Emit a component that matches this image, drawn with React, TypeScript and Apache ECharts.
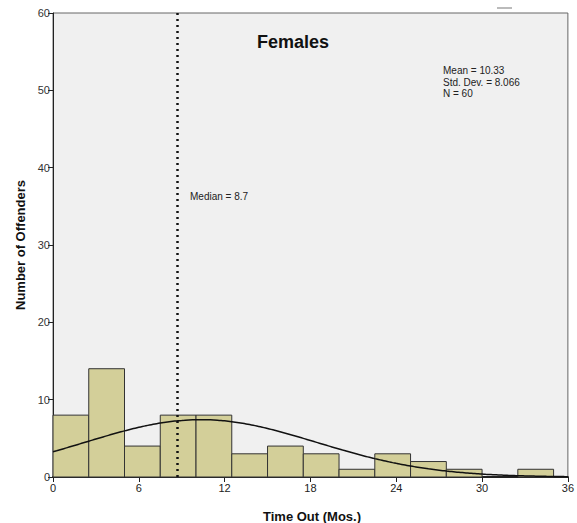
import React, { useEffect, useRef } from "react";
import * as echarts from "echarts";

// Histogram of time out (months), bin width 2.5
const binStarts = [0, 2.5, 5, 7.5, 10, 12.5, 15, 17.5, 20, 22.5, 25, 27.5, 30, 32.5];
const binCounts = [8, 14, 4, 8, 8, 3, 4, 3, 1, 3, 2, 1, 0, 1];
const BIN_WIDTH = 2.5;

// Summary statistics
const MEAN = 10.33;
const STD_DEV = 8.066;
const N = 60;
const MEDIAN = 8.7;

const xTicks = [0, 6, 12, 18, 24, 30, 36];
const yTicks = [0, 10, 20, 30, 40, 50, 60];

const FONT = "'Liberation Sans', Arial, sans-serif";

// Fitted normal curve scaled to counts per bin
function normalCurve(): number[][] {
  const pts: number[][] = [];
  for (let i = 0; i <= 144; i++) {
    const x = i * 0.25;
    const z = (x - MEAN) / STD_DEV;
    const y = (N * BIN_WIDTH * Math.exp(-0.5 * z * z)) / (STD_DEV * Math.sqrt(2 * Math.PI));
    pts.push([x, y]);
  }
  return pts;
}

export default function App() {
  const ref = useRef<HTMLDivElement>(null);

  useEffect(() => {
    if (!ref.current) return;
    const chart = echarts.init(ref.current, null, { renderer: "svg" });
    const bars = binStarts.map((s, i) => [s, s + BIN_WIDTH, binCounts[i]]);

    chart.setOption({
      animation: false,
      backgroundColor: "#ffffff",
      grid: {
        left: 53,
        top: 13,
        width: 516,
        height: 464,
        show: true,
        backgroundColor: "#f0f0f0",
        borderColor: "#666666",
        borderWidth: 1,
      },
      xAxis: {
        type: "value",
        min: xTicks[0],
        max: xTicks[xTicks.length - 1],
        interval: 6,
        axisLine: { show: true, onZero: false, lineStyle: { color: "#222", width: 2 } },
        axisTick: { show: true, length: 5, lineStyle: { color: "#222" } },
        axisLabel: { color: "#222", fontSize: 11, fontFamily: FONT, margin: 5 },
        splitLine: { show: false },
      },
      yAxis: {
        type: "value",
        min: yTicks[0],
        max: yTicks[yTicks.length - 1],
        interval: 10,
        axisLine: { show: true, lineStyle: { color: "#222", width: 1 } },
        axisTick: { show: true, length: 5, lineStyle: { color: "#222" } },
        axisLabel: { color: "#333", fontSize: 11, fontFamily: FONT, margin: 3 },
        splitLine: { show: false },
      },
      series: [
        {
          type: "custom",
          data: bars,
          z: 2,
          renderItem: (params: any, api: any) => {
            const p0 = api.coord([api.value(0), api.value(2)]);
            const p1 = api.coord([api.value(1), 0]);
            const h = p1[1] - p0[1];
            if (h <= 0) return null;
            return {
              type: "rect",
              shape: { x: p0[0], y: p0[1], width: p1[0] - p0[0], height: h },
              style: { fill: "#d3cf99", stroke: "#333333", lineWidth: 1 },
            };
          },
        },
        {
          type: "line",
          data: normalCurve(),
          showSymbol: false,
          symbol: "none",
          smooth: true,
          z: 3,
          lineStyle: { color: "#111", width: 1.5 },
          markLine: {
            silent: true,
            symbol: "none",
            label: { show: false },
            lineStyle: { color: "#111", type: [2, 4], width: 2.5 },
            data: [{ xAxis: MEDIAN }],
          },
        },
      ],
      graphic: [
        {
          type: "text",
          left: 257,
          top: 33,
          style: { text: "Females", fontSize: 18, fontWeight: "bold", fontFamily: FONT, fill: "#111" },
        },
        {
          type: "text",
          left: 443,
          top: 65,
          style: {
            text: `Mean = ${MEAN.toFixed(2)}\nStd. Dev. = ${STD_DEV.toFixed(3)}\nN = ${N}`,
            fontSize: 10,
            lineHeight: 11.5,
            fontFamily: FONT,
            fill: "#222",
          },
        },
        {
          type: "text",
          left: 190,
          top: 191,
          style: { text: `Median = ${MEDIAN}`, fontSize: 10, fontFamily: FONT, fill: "#222" },
        },
        {
          type: "text",
          x: 20,
          y: 245,
          rotation: Math.PI / 2,
          style: {
            text: "Number of Offenders",
            fontSize: 13,
            fontWeight: "bold",
            fontFamily: FONT,
            fill: "#111",
            align: "center",
            verticalAlign: "middle",
          },
        },
        {
          type: "text",
          x: 312,
          y: 516,
          style: {
            text: "Time Out (Mos.)",
            fontSize: 13,
            fontWeight: "bold",
            fontFamily: FONT,
            fill: "#111",
            align: "center",
            verticalAlign: "middle",
          },
        },
        {
          type: "line",
          shape: { x1: 497, y1: 8, x2: 512, y2: 8 },
          style: { stroke: "#bbbbbb", lineWidth: 2 },
        },
      ],
    });

    return () => chart.dispose();
  }, []);

  return (
    <div
      ref={ref}
      style={{ position: "absolute", left: 0, top: 0, width: 577, height: 523 }}
    />
  );
}
